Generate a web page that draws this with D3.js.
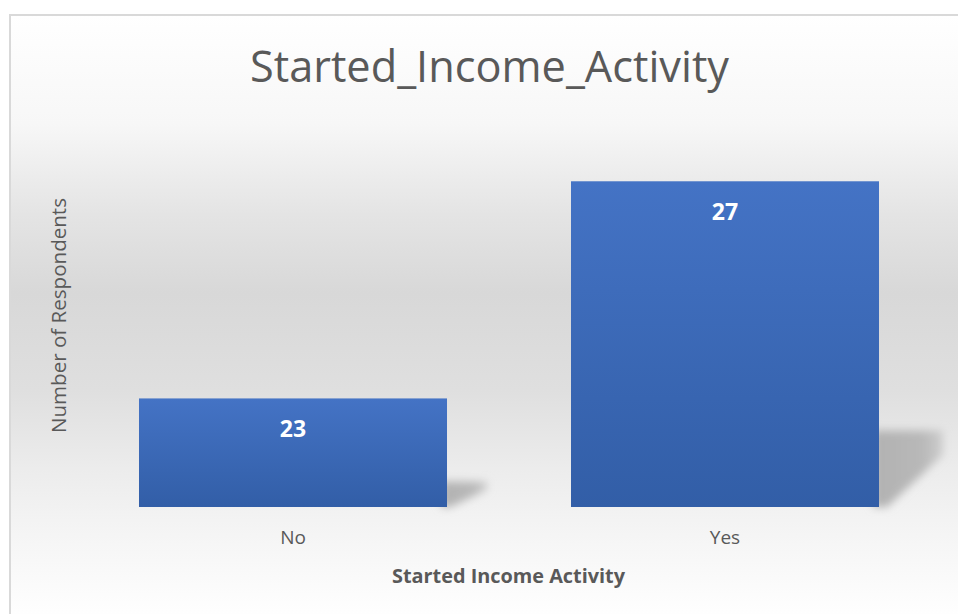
<!DOCTYPE html>
<html>
<head>
<meta charset="utf-8">
<script src="https://cdn.jsdelivr.net/npm/d3@7"></script>
<style>
  html, body { margin: 0; padding: 0; background: #ffffff; }
  svg { display: block; }
</style>
</head>
<body>
<svg id="chart" width="958" height="614"></svg>
<script>
const categories = ["No", "Yes"];
const values = [23, 27];
const yDomain = [21, 28];
const chartTitle = "Started_Income_Activity";
const xAxisTitle = "Started Income Activity";
const yAxisTitle = "Number of Respondents";

const W = 958, H = 614;
const svg = d3.select("#chart");
const defs = svg.append("defs");

// background gradient
const bg = defs.append("linearGradient").attr("id", "bgGrad")
  .attr("gradientUnits", "userSpaceOnUse")
  .attr("x1", 0).attr("y1", 15).attr("x2", 0).attr("y2", 620);
[[0, "#ffffff"], [0.18, "#f7f7f7"], [0.33, "#e4e4e4"], [0.46, "#d8d8d8"], [0.62, "#dfdfdf"], [0.75, "#ececec"], [0.86, "#f5f5f5"], [1, "#ffffff"]]
  .forEach(([o, c]) => bg.append("stop").attr("offset", o).attr("stop-color", c));

const barGrad = defs.append("linearGradient").attr("id", "barGrad")
  .attr("x1", 0).attr("y1", 0).attr("x2", 0).attr("y2", 1);
barGrad.append("stop").attr("offset", 0).attr("stop-color", "#4473c5");
barGrad.append("stop").attr("offset", 1).attr("stop-color", "#325ea7");

const shGrad = defs.append("linearGradient").attr("id", "shGrad")
  .attr("x1", 0).attr("y1", 0).attr("x2", 1).attr("y2", 0);
shGrad.append("stop").attr("offset", 0).attr("stop-color", "#b2b2b2");
shGrad.append("stop").attr("offset", 0.7).attr("stop-color", "#b8b8b8");
shGrad.append("stop").attr("offset", 1).attr("stop-color", "#cdcdcd");

const blur = defs.append("filter").attr("id", "shadowBlur")
  .attr("x", "-50%").attr("y", "-50%").attr("width", "200%").attr("height", "200%");
blur.append("feGaussianBlur").attr("stdDeviation", 4.5);

// chart area
svg.append("rect").attr("x", 10).attr("y", 15).attr("width", W + 20).attr("height", H + 20)
  .attr("fill", "url(#bgGrad)").attr("stroke", "#d9d9d9").attr("stroke-width", 2);

const x = d3.scaleBand().domain(categories).range([77, 941])
  .paddingInner(0.287).paddingOuter(0.1435);
const y = d3.scaleLinear().domain(yDomain).range([507, 127]);

const data = categories.map((c, i) => ({ c, v: values[i] }));

// shadows
svg.append("g").selectAll("polygon").data(data).join("polygon")
  .attr("points", d => {
    const x1 = x(d.c) + x.bandwidth() - 6;
    const yb = y(yDomain[0]);
    const h = yb - y(d.v);
    const w = 34 + 0.11 * h;
    const yt = yb - 0.235 * h;
    const yd = yb - 0.16 * h;
    return [[x1, yb], [x1, yt], [x1 + w, yt], [x1 + w, yd], [x1 + 0.2 * w, yb]].map(p => p.join(",")).join(" ");
  })
  .attr("fill", "url(#shGrad)")
  .attr("filter", "url(#shadowBlur)");

// bars
svg.append("g").selectAll("rect").data(data).join("rect")
  .attr("x", d => x(d.c))
  .attr("y", d => y(d.v))
  .attr("width", x.bandwidth())
  .attr("height", d => y(yDomain[0]) - y(d.v))
  .attr("fill", "url(#barGrad)");

// data labels
svg.append("g").selectAll("text").data(data).join("text")
  .attr("x", d => x(d.c) + x.bandwidth() / 2)
  .attr("y", d => y(d.v) + 39)
  .attr("text-anchor", "middle")
  .attr("font-family", "'Open Sans', sans-serif")
  .attr("font-weight", "bold")
  .attr("font-size", 23)
  .attr("fill", "#ffffff")
  .text(d => d.v);

// x axis labels
const xAxis = d3.axisBottom(x).tickSize(0).tickPadding(0);
const gx = svg.append("g").attr("transform", "translate(0,530)").call(xAxis);
gx.select(".domain").remove();
gx.selectAll("text")
  .attr("dy", "0.71em")
  .attr("font-family", "'Open Sans', sans-serif")
  .attr("font-size", 19)
  .attr("fill", "#595959");

// title
svg.append("text")
  .attr("x", 489.5).attr("y", 82)
  .attr("text-anchor", "middle")
  .attr("font-family", "'Open Sans', sans-serif")
  .attr("font-size", 43)
  .attr("fill", "#595959")
  .attr("textLength", 479).attr("lengthAdjust", "spacingAndGlyphs")
  .text(chartTitle);

// x axis title
svg.append("text")
  .attr("x", 508.5).attr("y", 583)
  .attr("text-anchor", "middle")
  .attr("font-family", "'Open Sans', sans-serif")
  .attr("font-weight", "bold")
  .attr("font-size", 20)
  .attr("fill", "#595959")
  .attr("textLength", 233).attr("lengthAdjust", "spacingAndGlyphs")
  .text(xAxisTitle);

// y axis title
svg.append("text")
  .attr("transform", "translate(66,315.5) rotate(-90)")
  .attr("text-anchor", "middle")
  .attr("font-family", "'Open Sans', sans-serif")
  .attr("font-size", 20)
  .attr("fill", "#595959")
  .attr("textLength", 235).attr("lengthAdjust", "spacingAndGlyphs")
  .text(yAxisTitle);
</script>
</body>
</html>
